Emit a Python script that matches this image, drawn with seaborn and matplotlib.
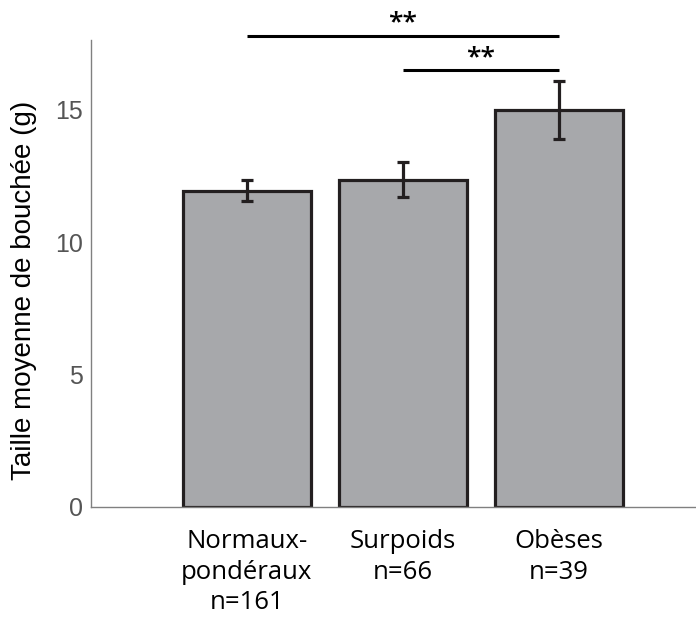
import matplotlib
matplotlib.use("Agg")
import matplotlib.pyplot as plt
import seaborn as sns
import pandas as pd
import numpy as np

categories = ["Normaux-\npondéraux\nn=161", "Surpoids\nn=66", "Obèses\nn=39"]
means = [11.95, 12.35, 15.0]
err_low = [11.55, 11.72, 13.88]
err_high = [12.34, 13.01, 16.08]
yticks = [0, 5, 10, 15]
sig_pairs = [(0, 2), (1, 2)]
sig_levels = [17.8, 16.5]
sig_labels = ["**", "**"]

sns.set_theme(style="white")
plt.rcParams['font.family'] = ['Open Sans', 'DejaVu Sans']

df = pd.DataFrame({"cat": categories, "mean": means})

fig = plt.figure(figsize=(6.96, 6.2), dpi=100)
ax = fig.add_axes([91/696, 1-506.7/620, (696-91)/696, (506.7-40)/620])

sns.barplot(data=df, x="cat", y="mean", ax=ax, color="#a7a8ab", saturation=1,
            width=0.82, edgecolor="#231f20", linewidth=2.3, errorbar=None)

x = np.arange(len(categories))
m = np.array(means)
yerr = np.vstack([m - np.array(err_low), np.array(err_high) - m])
ax.errorbar(x, m, yerr=yerr, fmt="none", ecolor="#231f20", elinewidth=2.3,
            capsize=4, capthick=2.3, zorder=5)

for (a, b), lvl, lab in zip(sig_pairs, sig_levels, sig_labels):
    ax.plot([a, b], [lvl, lvl], color="black", lw=2.2, clip_on=False, solid_capstyle="butt")
    ax.text((a + b) / 2, lvl + 0.0, lab, ha="center", va="bottom", fontsize=19,
            fontweight="semibold", clip_on=False, color="black")

ax.set_xlim(-1.0, 2.88)
ax.set_ylim(0, 17.64)
ax.set_yticks(yticks)
ax.set_yticklabels([str(t) for t in yticks], fontfamily="Liberation Sans", fontsize=18, color="#555555")
ax.set_xlabel("")
ax.set_ylabel("Taille moyenne de bouchée (g)", fontsize=20, color="black",
              fontfamily="Liberation Sans")
ax.yaxis.set_label_coords(-0.09, 0.464)
ax.tick_params(axis="x", length=0, labelsize=18.5, labelcolor="black", pad=16)
for lbl in ax.get_xticklabels():
    lbl.set_linespacing(1.3)
ax.tick_params(axis="y", direction="in", length=5, width=1, color="#808080", pad=6)
for s in ["top", "right"]:
    ax.spines[s].set_visible(False)
for s in ["left", "bottom"]:
    ax.spines[s].set_color("#808080")
    ax.spines[s].set_linewidth(1)

fig.savefig("out.png", dpi=100)
